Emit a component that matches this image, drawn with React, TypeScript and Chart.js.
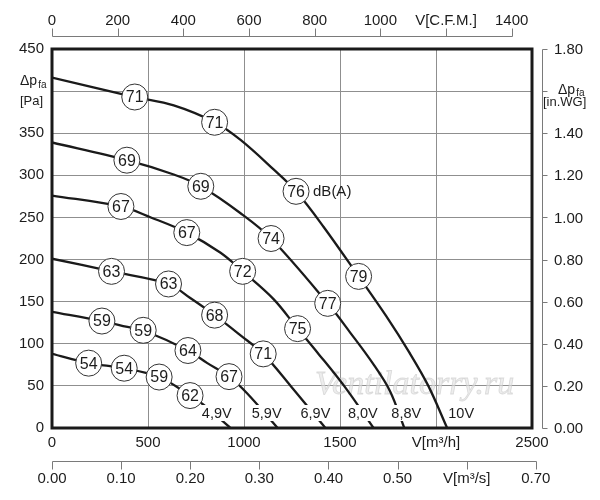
import React, { useEffect, useRef } from "react";
import { Chart, registerables } from "chart.js";

Chart.register(...registerables);

// ---------- data (flow in m³/h, pressure in Pa) ----------
const curveNames = ["10V", "8,8V", "8,0V", "6,9V", "5,9V", "4,9V"];

const curve10V = [[0, 416], [431, 393], [634, 383], [847, 363], [982, 342], [1154, 307], [1271, 281], [1414, 239], [1597, 180], [1740, 133], [1860, 90], [1960, 50], [2058, 0]];
const curve88V = [[0, 339], [390, 318], [634, 301], [775, 287], [982, 255], [1141, 225], [1436, 148], [1554, 113], [1670, 77], [1760, 44], [1835, 0]];
const curve80V = [[0, 276], [359, 263], [515, 250], [702, 232], [878, 208], [993, 186], [1154, 153], [1279, 118], [1381, 90], [1528, 48], [1675, 0]];
const curve69V = [[0, 201], [310, 186], [607, 171], [722, 154], [847, 134], [982, 110], [1100, 88], [1243, 50], [1424, 0]];
const curve59V = [[0, 138], [260, 127], [393, 120], [475, 116], [708, 92], [809, 77], [922, 61], [1017, 41], [1175, 0]];
const curve49V = [[0, 88], [191, 77], [376, 71], [558, 60.5], [719, 38.5], [792, 27], [930, 0]];

const curves = [curve10V, curve88V, curve80V, curve69V, curve59V, curve49V];

// noise level markers: [flow, pressure, dB(A)]
const noiseMarks = [
  [431, 393, 71], [847, 363, 71], [1271, 281, 76], [1597, 180, 79],
  [390, 318, 69], [775, 287, 69], [1141, 225, 74], [1436, 148, 77],
  [359, 263, 67], [702, 232, 67], [993, 186, 72], [1279, 118, 75],
  [310, 186, 63], [607, 171, 63], [847, 134, 68], [1100, 88, 71],
  [260, 127, 59], [475, 116, 59], [708, 92, 64], [922, 61, 67],
  [191, 77, 54], [376, 71, 54], [558, 60.5, 59], [719, 38.5, 62],
];
const unitMarkIndex = 2; // "76" gets the dB(A) unit beside it
const unitText = "dB(A)";

// voltage labels at the foot of each curve
const voltLabels = ["4,9V", "5,9V", "6,9V", "8,0V", "8,8V", "10V"];
const voltLabelFlow = [858, 1118, 1372, 1619, 1845, 2131];
const voltLabelPressure = 17.8;

// axes
const flowTicksStep = 500;
const flowMax = 2500;
const pressureMax = 450;
const pressureStep = 50;
const cfmTicks = [0, 200, 400, 600, 800, 1000, 1200, 1400];
const cfmUnitTick = 1200;
const m3hPerCfm = 1.71;
const m3sTicks = [0, 0.1, 0.2, 0.3, 0.4, 0.5, 0.6, 0.7];
const m3sUnitTick = 0.6;
const inwgTicks = [0, 0.2, 0.4, 0.6, 0.8, 1.0, 1.2, 1.4, 1.6, 1.8];
const inwgUnitTick = 1.6;
const paPerInwg = 250;

const watermark = "Ventilatorry.ru";
const watermarkAt = [1370, 51];

const FONT = '"Liberation Sans", Arial, sans-serif';
const TEXT = "#1c1c1c";
const AXIS_GRAY = "#7a7a7a";

const overlay = {
  id: "overlay",
  beforeDatasetsDraw(chart: any) {
    const { ctx, scales } = chart;
    ctx.save();
    ctx.font = `italic 34px "Liberation Serif", serif`;
    ctx.textBaseline = "middle";
    ctx.textAlign = "left";
    ctx.fillStyle = "rgba(225,225,225,0.6)";
    ctx.strokeStyle = "rgba(200,200,200,0.6)";
    ctx.lineWidth = 0.8;
    const wx = scales.x.getPixelForValue(watermarkAt[0]);
    const wy = scales.y.getPixelForValue(watermarkAt[1]);
    ctx.fillText(watermark, wx, wy);
    ctx.strokeText(watermark, wx, wy);
    ctx.restore();
  },
  afterDatasetsDraw(chart: any) {
    const { ctx, scales } = chart;
    ctx.save();
    // circle numbers
    const meta = chart.getDatasetMeta(0);
    ctx.fillStyle = TEXT;
    ctx.textAlign = "center";
    ctx.textBaseline = "middle";
    ctx.font = `16px ${FONT}`;
    meta.data.forEach((el: any, i: number) => {
      ctx.fillText(String(noiseMarks[i][2]), el.x, el.y + 1);
      if (i === unitMarkIndex) {
        ctx.save();
        ctx.textAlign = "left";
        ctx.font = `15px ${FONT}`;
        ctx.fillText(unitText, el.x + 17, el.y + 1);
        ctx.restore();
      }
    });
    // voltage labels
    ctx.font = `14.5px ${FONT}`;
    voltLabels.forEach((t, i) => {
      const x = scales.x.getPixelForValue(voltLabelFlow[i]);
      const y = scales.y.getPixelForValue(voltLabelPressure);
      const w = ctx.measureText(t).width;
      ctx.fillStyle = "#fff";
      ctx.fillRect(x - w / 2 - 2, y - 8, w + 4, 16);
      ctx.fillStyle = TEXT;
      ctx.fillText(t, x, y + 1);
    });
    ctx.restore();
  },
  afterDraw(chart: any) {
    const { ctx, chartArea, scales } = chart;
    const xs = scales.x;
    const ys = scales.y;
    ctx.save();
    // thick frame
    ctx.strokeStyle = "#1a1a1a";
    ctx.lineWidth = 3;
    ctx.strokeRect(chartArea.left, chartArea.top, chartArea.right - chartArea.left, chartArea.bottom - chartArea.top);

    ctx.lineWidth = 1;
    ctx.strokeStyle = AXIS_GRAY;
    ctx.fillStyle = TEXT;
    ctx.font = `15px ${FONT}`;

    // top CFM axis
    const topY = 36.5;
    const cx0 = xs.getPixelForValue(cfmTicks[0] * m3hPerCfm);
    const cx1 = xs.getPixelForValue(cfmTicks[cfmTicks.length - 1] * m3hPerCfm);
    ctx.beginPath();
    ctx.moveTo(Math.round(cx0) + 0.5, topY);
    ctx.lineTo(Math.round(cx1) + 0.5, topY);
    cfmTicks.forEach((v) => {
      const px = Math.round(xs.getPixelForValue(v * m3hPerCfm)) + 0.5;
      ctx.moveTo(px, topY);
      ctx.lineTo(px, topY - 8);
    });
    ctx.stroke();
    ctx.textAlign = "center";
    ctx.textBaseline = "middle";
    cfmTicks.forEach((v) => {
      const px = xs.getPixelForValue(v * m3hPerCfm);
      ctx.fillText(v === cfmUnitTick ? "V[C.F.M.]" : String(v), px, 21);
    });

    // bottom m³/s axis
    const botY = 461.5;
    const sx0 = xs.getPixelForValue(m3sTicks[0] * 3600);
    const sx1 = xs.getPixelForValue(m3sTicks[m3sTicks.length - 1] * 3600);
    ctx.beginPath();
    ctx.moveTo(Math.round(sx0) + 0.5, botY);
    ctx.lineTo(Math.round(sx1) + 0.5, botY);
    m3sTicks.forEach((v) => {
      const px = Math.round(xs.getPixelForValue(v * 3600)) + 0.5;
      ctx.moveTo(px, botY);
      ctx.lineTo(px, botY + 8);
    });
    ctx.stroke();
    m3sTicks.forEach((v) => {
      const px = xs.getPixelForValue(v * 3600);
      ctx.fillText(v === m3sUnitTick ? "V[m³/s]" : v.toFixed(2), px, 479);
    });

    // right in.WG axis
    const rx = 542.5;
    ctx.beginPath();
    ctx.moveTo(rx, Math.round(ys.getPixelForValue(0)) + 0.5);
    ctx.lineTo(rx, Math.round(ys.getPixelForValue(inwgTicks[inwgTicks.length - 1] * paPerInwg)) + 0.5);
    inwgTicks.forEach((v) => {
      const py = Math.round(ys.getPixelForValue(v * paPerInwg)) + 0.5;
      ctx.moveTo(rx, py);
      ctx.lineTo(rx + 5, py);
    });
    ctx.stroke();
    ctx.textAlign = "left";
    inwgTicks.forEach((v) => {
      if (v === inwgUnitTick) return;
      const py = ys.getPixelForValue(v * paPerInwg);
      ctx.fillText(v.toFixed(2), 554, py + 1);
    });
    // right unit label
    const uy = ys.getPixelForValue(inwgUnitTick * paPerInwg);
    ctx.textBaseline = "alphabetic";
    ctx.font = `14px ${FONT}`;
    ctx.fillText("Δp", 558, uy + 3);
    let w = ctx.measureText("Δp").width;
    ctx.font = `10px ${FONT}`;
    ctx.fillText("fa", 558 + w + 1, uy + 5);
    ctx.font = `13px ${FONT}`;
    ctx.fillText("[in.WG]", 543, uy + 15);

    // left unit label
    const ly = ys.getPixelForValue(400);
    ctx.font = `14px ${FONT}`;
    ctx.fillText("Δp", 20, ly - 6);
    w = ctx.measureText("Δp").width;
    ctx.font = `10px ${FONT}`;
    ctx.fillText("fa", 20 + w + 1, ly - 3);
    ctx.font = `13px ${FONT}`;
    ctx.fillText("[Pa]", 20, ly + 14);
    ctx.restore();
  },
};

export default function App() {
  const ref = useRef<HTMLCanvasElement | null>(null);

  useEffect(() => {
    if (!ref.current) return;
    const datasets: any[] = [
      {
        type: "scatter",
        label: "dB(A)",
        data: noiseMarks.map((m) => ({ x: m[0], y: m[1] })),
        showLine: false,
        pointRadius: 13,
        pointBackgroundColor: "#ffffff",
        pointBorderColor: "#333333",
        pointBorderWidth: 1,
        order: 0,
      },
      ...curves.map((c, i) => ({
        type: "line",
        label: curveNames[i],
        data: c.map((p) => ({ x: p[0], y: p[1] })),
        borderColor: "#1a1a1a",
        borderWidth: 2.3,
        pointRadius: 0,
        fill: false,
        tension: 0.35,
        order: 1,
      })),
    ];

    const chart = new Chart(ref.current, {
      type: "line",
      data: { datasets },
      options: {
        animation: false,
        responsive: false,
        events: [],
        layout: { padding: { left: 0, top: 49, right: 68, bottom: 42 } },
        plugins: { legend: { display: false }, tooltip: { enabled: false } },
        scales: {
          x: {
            type: "linear",
            min: 0,
            max: flowMax,
            ticks: {
              stepSize: flowTicksStep,
              autoSkip: false,
              maxRotation: 0,
              padding: 6,
              color: TEXT,
              font: { family: FONT, size: 15 },
              callback: (v: any) => (v === 2000 ? "V[m³/h]" : String(v)),
            },
            grid: { color: "#8f8f8f", lineWidth: 1, drawTicks: false },
            border: { display: false },
            afterFit: (s: any) => {
              s.height = 30;
            },
          },
          y: {
            type: "linear",
            min: 0,
            max: pressureMax,
            ticks: {
              stepSize: pressureStep,
              autoSkip: false,
              padding: 8,
              color: TEXT,
              font: { family: FONT, size: 15 },
              callback: (v: any) => (v === 400 ? "" : String(v)),
            },
            grid: { color: "#8f8f8f", lineWidth: 1, drawTicks: false },
            border: { display: false },
            afterFit: (s: any) => {
              s.width = 52;
            },
          },
        },
      } as any,
      plugins: [overlay],
    });
    return () => chart.destroy();
  }, []);

  return (
    <div style={{ position: "fixed", left: 0, top: 0, width: 600, height: 500, background: "#fff" }}>
      <canvas ref={ref} width={600} height={500} style={{ width: 600, height: 500 }} />
    </div>
  );
}
